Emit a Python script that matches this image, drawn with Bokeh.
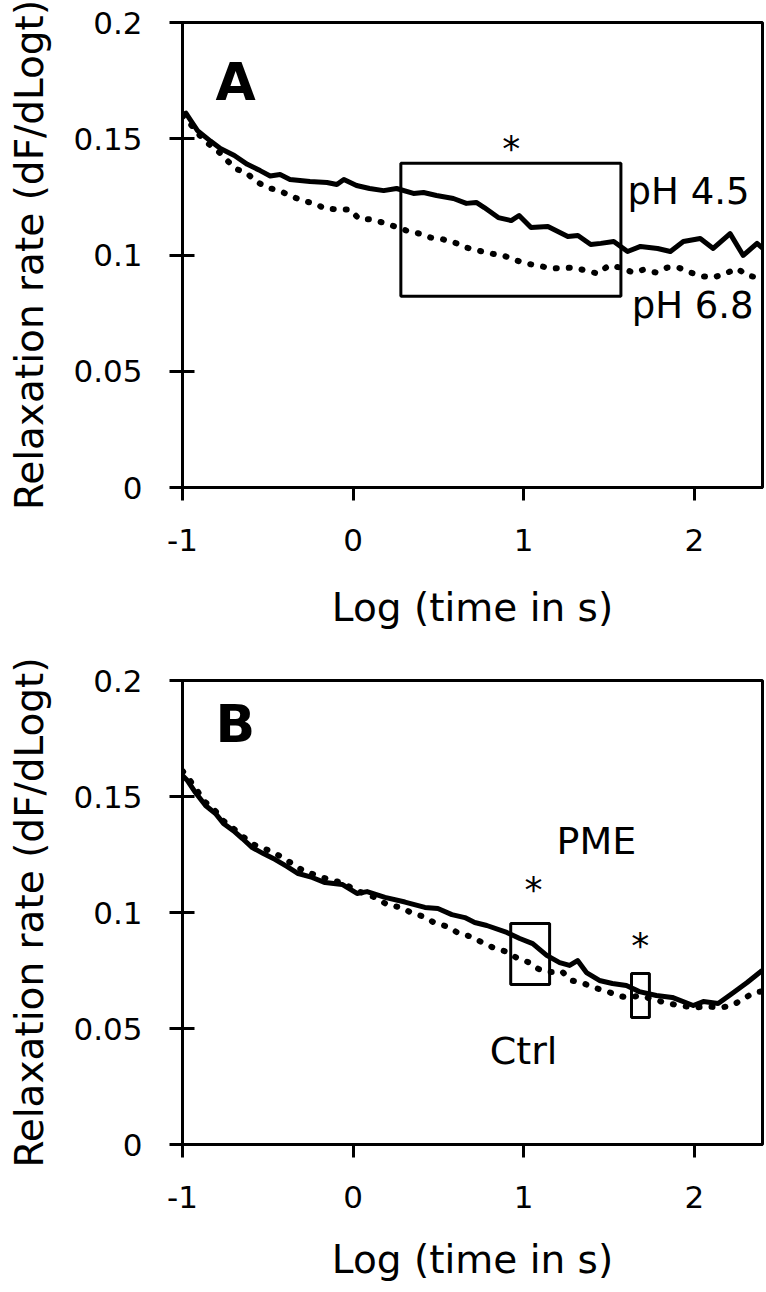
from bokeh.plotting import figure
from bokeh.layouts import column
from bokeh.models import Range1d, FixedTicker
from bokeh.core.properties import value
from bokeh.embed import file_html
from bokeh.resources import INLINE

FONT = "DejaVu Sans"

# ---------------- data ----------------
x_ticks = [-1, 0, 1, 2]
x_tick_labels = ["-1", "0", "1", "2"]
y_ticks = [0, 0.05, 0.1, 0.15, 0.2]
y_tick_labels = ["0", "0.05", "0.1", "0.15", "0.2"]

x_title = "Log (time in s)"
y_title = "Relaxation rate (dF/dLogt)"

# Panel A : pH 4.5 (solid)
a_ph45_x = [-1.0, -0.98, -0.953, -0.912, -0.836, -0.778, -0.696, -0.62, -0.545, -0.486,
            -0.428, -0.37, -0.253, -0.153, -0.095, -0.054, 0.02, 0.097, 0.179, 0.255,
            0.354, 0.413, 0.489, 0.588, 0.664, 0.722, 0.769, 0.851, 0.927, 0.973,
            1.043, 1.142, 1.259, 1.318, 1.393, 1.452, 1.528, 1.609, 1.685, 1.785,
            1.86, 1.936, 2.035, 2.111, 2.21, 2.287, 2.368, 2.4]
a_ph45_y = [0.160, 0.161, 0.158, 0.1535, 0.149, 0.1458, 0.1428, 0.139, 0.1363, 0.134,
            0.1346, 0.1325, 0.1316, 0.1312, 0.1303, 0.1325, 0.1299, 0.1286, 0.1277, 0.1286,
            0.1265, 0.1269, 0.1256, 0.1243, 0.1222, 0.1226, 0.1204, 0.1161, 0.1148, 0.117,
            0.1118, 0.1123, 0.108, 0.1084, 0.1045, 0.105, 0.1058, 0.1015, 0.1037, 0.1028,
            0.1015, 0.1058, 0.1071, 0.1028, 0.1092, 0.0998, 0.105, 0.103]

# Panel A : pH 6.8 (dotted)
a_ph68_x = [-1.0, -0.95, -0.9, -0.85, -0.784, -0.743, -0.691, -0.62, -0.568, -0.504,
            -0.434, -0.37, -0.3, -0.229, -0.165, -0.089, -0.019, 0.033, 0.097, 0.173,
            0.243, 0.313, 0.389, 0.454, 0.529, 0.594, 0.664, 0.734, 0.81, 0.88,
            0.944, 1.014, 1.084, 1.16, 1.23, 1.294, 1.364, 1.434, 1.499, 1.569,
            1.639, 1.703, 1.773, 1.843, 1.907, 1.977, 2.053, 2.111, 2.181, 2.252,
            2.31, 2.374, 2.4]
a_ph68_y = [0.160, 0.156, 0.1515, 0.148, 0.1441, 0.141, 0.1372, 0.135, 0.1316, 0.129,
            0.1277, 0.1256, 0.1234, 0.1222, 0.12, 0.1196, 0.1196, 0.1157, 0.1153, 0.114,
            0.1123, 0.1105, 0.1092, 0.1075, 0.1067, 0.1054, 0.1032, 0.1019, 0.1006, 0.0998,
            0.098, 0.0963, 0.0955, 0.0942, 0.0944, 0.0946, 0.0933, 0.092, 0.0955, 0.0946,
            0.0925, 0.0937, 0.0925, 0.0946, 0.0946, 0.0925, 0.0908, 0.0903, 0.092, 0.0942,
            0.0912, 0.0903, 0.0895]

# Panel B : PME (solid)
b_pme_x = [-1.0, -0.971, -0.924, -0.865, -0.807, -0.76, -0.702, -0.649, -0.591, -0.526,
           -0.456, -0.386, -0.322, -0.24, -0.164, -0.064, 0.023, 0.082, 0.187, 0.304,
           0.421, 0.497, 0.579, 0.655, 0.713, 0.784, 0.901, 0.977, 1.053, 1.135,
           1.211, 1.269, 1.316, 1.368, 1.444, 1.52, 1.602, 1.678, 1.778, 1.871,
           1.994, 2.053, 2.14, 2.222, 2.31, 2.398]
b_pme_y = [0.159, 0.1569, 0.1517, 0.1461, 0.1427, 0.1384, 0.1353, 0.1319, 0.128, 0.1254,
           0.1228, 0.1198, 0.1168, 0.1151, 0.1129, 0.1121, 0.1082, 0.109, 0.1065, 0.1045,
           0.1022, 0.1017, 0.0991, 0.0978, 0.0957, 0.0944, 0.0914, 0.0888, 0.0866, 0.0815,
           0.0784, 0.0772, 0.0793, 0.0741, 0.0707, 0.0694, 0.0685, 0.0659, 0.0642, 0.0634,
           0.0599, 0.0616, 0.0608, 0.0651, 0.0698, 0.075]

# Panel B : Ctrl (dotted)
b_ctrl_x = [-1.0, -0.971, -0.924, -0.865, -0.807, -0.76, -0.702, -0.649, -0.591, -0.474,
            -0.41, -0.281, -0.211, -0.146, -0.064, 0.02, 0.129, 0.209, 0.281, 0.345,
            0.413, 0.481, 0.55, 0.618, 0.686, 0.754, 0.823, 0.891, 0.959, 1.027,
            1.086, 1.154, 1.222, 1.281, 1.349, 1.417, 1.485, 1.554, 1.612, 1.68,
            1.749, 1.817, 1.885, 1.994, 2.082, 2.152, 2.222, 2.281, 2.351, 2.398]
b_ctrl_y = [0.161, 0.1585, 0.1535, 0.1475, 0.1437, 0.1395, 0.1362, 0.1329, 0.1295, 0.1262,
            0.1235, 0.1175, 0.116, 0.1143, 0.1128, 0.1095, 0.1065, 0.103, 0.1023, 0.0997,
            0.0983, 0.0954, 0.094, 0.0911, 0.0897, 0.0872, 0.0848, 0.0833, 0.0805, 0.0786,
            0.0757, 0.0743, 0.0747, 0.0707, 0.0695, 0.0675, 0.0661, 0.0642, 0.0632, 0.0642,
            0.0628, 0.0614, 0.0603, 0.059, 0.0595, 0.059, 0.0599, 0.0625, 0.0655, 0.066]

# significance boxes (log-time window, rate window)
a_box_left = [0.28]
a_box_right = [1.57]
a_box_top = [0.1395]
a_box_bottom = [0.0823]

b_box_left = [0.924, 1.632]
b_box_right = [1.152, 1.737]
b_box_top = [0.0953, 0.0737]
b_box_bottom = [0.069, 0.0547]

# annotation texts
a_series_labels = ["pH 4.5", "pH 6.8"]
a_series_label_x = [1.609, 1.633]
a_series_label_y = [0.1271, 0.0781]
a_star_x = [0.927]
a_star_y = [0.1456]

b_series_labels = ["PME", "Ctrl"]
b_series_label_x = [1.193, 0.801]
b_series_label_y = [0.131, 0.0405]
b_star_x = [1.058, 1.684]
b_star_y = [0.1099, 0.0858]

panel_letters = ["A", "B"]
panel_letter_x = [-0.807, -0.807]
panel_letter_y = [0.1742, 0.1813]


def make_fig(height, b_left, b_right, b_top, b_bottom, lab_off, title_off):
    p = figure(width=766, height=height,
               x_range=Range1d(-1, 2.4), y_range=Range1d(0, 0.2),
               output_backend="svg", toolbar_location=None,
               min_border_left=b_left, min_border_right=b_right,
               min_border_top=b_top, min_border_bottom=b_bottom)
    p.xgrid.visible = False
    p.ygrid.visible = False
    p.outline_line_color = "black"
    p.outline_line_width = 3
    p.outline_line_alpha = 1.0
    p.background_fill_color = "white"
    p.border_fill_color = "white"

    for ax in (p.xaxis[0], p.yaxis[0]):
        ax.axis_line_width = 3
        ax.axis_line_color = "black"
        ax.major_tick_line_width = 3
        ax.major_tick_line_color = "black"
        ax.minor_tick_line_color = None
        ax.major_label_text_font = FONT
        ax.major_label_text_font_size = "31px"
        ax.major_label_text_color = "black"
        ax.axis_label_text_font = FONT
        ax.axis_label_text_font_size = "39px"
        ax.axis_label_text_font_style = "normal"
        ax.axis_label_text_color = "black"

    xa = p.xaxis[0]
    xa.ticker = FixedTicker(ticks=x_ticks)
    xa.major_label_overrides = dict(zip(x_ticks, x_tick_labels))
    xa.major_tick_in = 0
    xa.major_tick_out = 13
    xa.major_label_standoff = lab_off
    xa.axis_label = x_title
    xa.axis_label_standoff = title_off

    ya = p.yaxis[0]
    ya.ticker = FixedTicker(ticks=y_ticks)
    ya.major_label_overrides = dict(zip(y_ticks, y_tick_labels))
    ya.major_tick_in = 12
    ya.major_tick_out = 13
    ya.major_label_standoff = 27
    ya.axis_label = y_title
    ya.axis_label_standoff = 18
    return p


def text_kw(size, style="normal", align="left"):
    return dict(text_font=value(FONT), text_font_size=size, text_font_style=style,
                text_color="black", text_baseline="middle", text_align=align)


# ---------------- panel A ----------------
pA = make_fig(648, 180, 4, 22, 161, 28, 31)
pA.quad(left=a_box_left, right=a_box_right, top=a_box_top, bottom=a_box_bottom,
        fill_color=None, line_color="black", line_width=3)
pA.line(a_ph68_x, a_ph68_y, line_color="black", line_width=6,
        line_dash="1 12", line_cap="round")
pA.line(a_ph45_x, a_ph45_y, line_color="black", line_width=5, line_join="round")
pA.text(x=a_series_label_x, y=a_series_label_y, text=a_series_labels, **text_kw("37px"))
pA.text(x=a_star_x, y=a_star_y, text=["*"] * len(a_star_x), **text_kw("36px", align="center"))
pA.text(x=panel_letter_x[:1], y=panel_letter_y[:1], text=panel_letters[:1],
        **text_kw("52px", "bold"))

# ---------------- panel B ----------------
pB = make_fig(644, 182, 3, 32, 148, 28, 26)
pB.quad(left=b_box_left, right=b_box_right, top=b_box_top, bottom=b_box_bottom,
        fill_color=None, line_color="black", line_width=3)
pB.line(b_ctrl_x, b_ctrl_y, line_color="black", line_width=6,
        line_dash="1 12", line_cap="round")
pB.line(b_pme_x, b_pme_y, line_color="black", line_width=5, line_join="round")
pB.text(x=b_series_label_x, y=b_series_label_y, text=b_series_labels, **text_kw("38px"))
pB.text(x=b_star_x, y=b_star_y, text=["*"] * len(b_star_x), **text_kw("36px", align="center"))
pB.text(x=panel_letter_x[1:], y=panel_letter_y[1:], text=panel_letters[1:],
        **text_kw("52px", "bold"))

layout = column(pA, pB)
open("out.html", "w").write(file_html(layout, INLINE))
